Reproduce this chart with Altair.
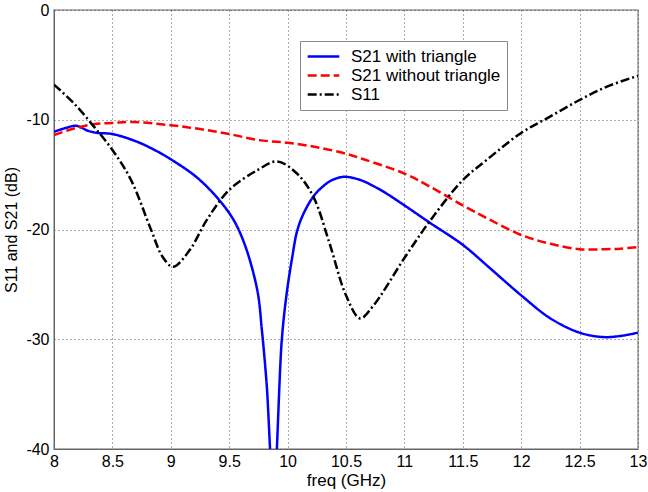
import altair as alt
import pandas as pd

# Series names (legend order)
names = ["S21 with triangle", "S21 without triangle", "S11"]

# S21 with triangle
blue_f = [8.0, 8.1, 8.19, 8.29, 8.37, 8.5, 8.71, 8.86, 9.0, 9.25, 9.5, 9.62,
          9.74, 9.78, 9.82, 9.88, 9.95, 9.99, 10.04, 10.08, 10.13, 10.22, 10.3,
          10.38, 10.48, 10.56, 10.65, 10.82, 11.0, 11.22, 11.5, 11.73, 12.0,
          12.25, 12.5, 12.7, 12.85, 13.0]
blue_db = [-11.1, -10.75, -10.55, -11.0, -11.2, -11.3, -12.0, -12.75, -13.6,
           -15.5, -18.5, -21.0, -25.5, -29.2, -34.0, -44.0, -30.1, -26.0, -22.5,
           -20.2, -18.7, -17.0, -16.1, -15.5, -15.2, -15.3, -15.6, -16.55, -17.8,
           -19.4, -21.4, -23.5, -26.0, -28.1, -29.4, -29.8, -29.7, -29.4]

# S21 without triangle
red_f = [8.0, 8.17, 8.34, 8.5, 8.68, 9.0, 9.25, 9.5, 9.75, 10.0, 10.25, 10.5,
         10.65, 11.0, 11.22, 11.5, 11.73, 12.0, 12.25, 12.5, 12.7, 12.85, 13.0]
red_db = [-11.4, -10.8, -10.4, -10.3, -10.2, -10.5, -10.85, -11.3, -11.85, -12.1,
          -12.5, -13.1, -13.6, -14.9, -16.1, -17.8, -19.1, -20.5, -21.3, -21.8,
          -21.8, -21.75, -21.6]

# S11
black_f = [8.0, 8.17, 8.34, 8.5, 8.66, 8.83, 8.93, 9.02, 9.16, 9.31, 9.5, 9.74,
           9.91, 10.08, 10.22, 10.36, 10.5, 10.62, 10.73, 11.0, 11.22, 11.5,
           11.7, 12.0, 12.25, 12.5, 12.73, 13.0]
black_db = [-6.8, -8.5, -10.6, -12.75, -15.5, -20.0, -22.5, -23.4, -21.9, -19.1,
            -16.4, -14.6, -13.8, -14.9, -17.0, -21.3, -26.0, -28.1, -27.0, -22.6,
            -19.2, -15.5, -13.7, -11.2, -9.7, -8.2, -7.0, -6.0]

x_ticks = [8, 8.5, 9, 9.5, 10, 10.5, 11, 11.5, 12, 12.5, 13]
y_ticks = [-40, -30, -20, -10, 0]

colors = ["#0000ff", "#ff0000", "#000000"]
dashes = [[1, 0], [9, 4], [9, 3, 2, 3]]

rows = []
for name, fs, vs in zip(names, [blue_f, red_f, black_f], [blue_db, red_db, black_db]):
    for i, (f, v) in enumerate(zip(fs, vs)):
        rows.append({"series": name, "freq": f, "db": v, "order": i})
df = pd.DataFrame(rows)

FONT = "Liberation Sans"

chart = alt.Chart(df).mark_line(strokeWidth=2.5, clip=True, interpolate="catmull-rom").encode(
    x=alt.X("freq:Q", scale=alt.Scale(domain=[8, 13], nice=False, zero=False),
            axis=alt.Axis(values=x_ticks, title="freq (GHz)", labelExpr="toString(datum.value)",
                          labelFlush=False, labelOverlap=False, labelPadding=4,
                          titlePadding=3, titleFontSize=17)),
    y=alt.Y("db:Q", scale=alt.Scale(domain=[-40, 0], nice=False, zero=False),
            axis=alt.Axis(values=y_ticks, title="S11 and S21 (dB)", labelExpr="toString(datum.value)",
                          labelFlush=False, labelOverlap=False, labelPadding=5,
                          titlePadding=6)),
    color=alt.Color("series:N", scale=alt.Scale(domain=names, range=colors), title=None),
    strokeDash=alt.StrokeDash("series:N", scale=alt.Scale(domain=names, range=dashes), title=None),
    order="order:Q",
    detail="series:N",
).properties(
    width=584,
    height=439,
    padding={"left": 54, "top": 10, "right": 10, "bottom": 43},
    autosize=alt.AutoSizeParams(type="none"),
).configure_view(
    stroke="#999999", strokeWidth=1.5
).configure_axis(
    labelFont=FONT, titleFont=FONT, labelFontSize=16, titleFontSize=16,
    labelColor="#000", titleColor="#000", titleFontWeight="normal",
    ticks=False, domainColor="#666666", domainWidth=1,
    grid=True, gridColor="#000000", gridDash=[1, 3], gridWidth=0.8, gridOpacity=0.8,
).configure_legend(
    orient="none", legendX=246, legendY=31,
    fillColor="#ffffff", strokeColor="#888888", padding=6,
    labelFont=FONT, labelFontSize=17, labelColor="#000", labelOffset=10,
    symbolType="stroke", symbolSize=1000, symbolStrokeWidth=2.5,
    clipHeight=19, rowPadding=0, labelLimit=300,
)

chart.save("out.html", embed_options={"renderer": "svg", "actions": False})
